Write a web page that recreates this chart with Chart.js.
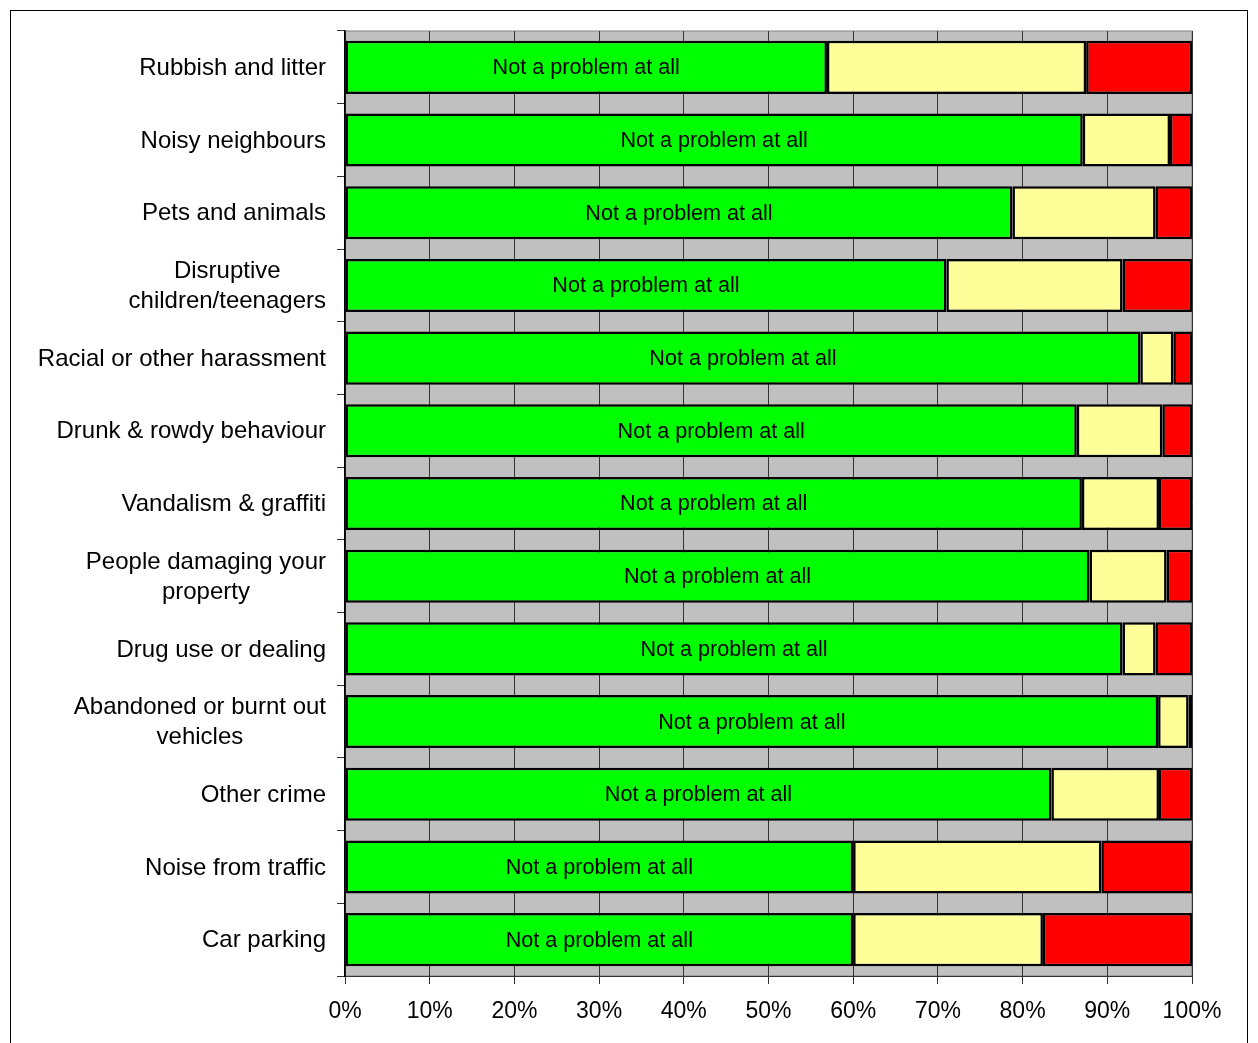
<!DOCTYPE html>
<html>
<head>
<meta charset="utf-8">
<script src="https://cdn.jsdelivr.net/npm/chart.js@4/dist/chart.umd.min.js"></script>
<style>
  html, body { margin: 0; padding: 0; background: #fff; }
  #wrap { position: relative; width: 1258px; height: 1043px; }
</style>
</head>
<body>
<div id="wrap"><canvas id="chart"></canvas></div>
<script>
const categories = [
  'Rubbish and litter',
  'Noisy neighbours',
  'Pets and animals',
  ['Disruptive', 'children/teenagers'],
  'Racial or other harassment',
  'Drunk & rowdy behaviour',
  'Vandalism & graffiti',
  ['People damaging your', 'property'],
  'Drug use or dealing',
  ['Abandoned or burnt out', 'vehicles'],
  'Other crime',
  'Noise from traffic',
  'Car parking'
]

const notAProblem = [56.9, 87.1, 78.8, 71.0, 93.9, 86.4, 87.0, 87.9, 91.8, 96.0, 83.4, 60.0, 60.0]
const bitOfAProblem = [30.6, 10.3, 16.9, 20.8, 3.9, 10.1, 9.1, 9.1, 3.9, 3.6, 12.7, 29.3, 22.4]
const bigProblem = [12.5, 2.6, 4.3, 8.2, 2.2, 3.5, 3.9, 3.0, 4.3, 0.4, 3.9, 10.7, 17.6]

const xTicks = [0, 10, 20, 30, 40, 50, 60, 70, 80, 90, 100]

const FONT = 'Arial, "Liberation Sans", sans-serif'

const backgroundPlugin = {
  id: 'plotBackground',
  beforeDraw(chart) {
    const { ctx, chartArea: a } = chart
    ctx.save()
    ctx.fillStyle = '#fff'
    ctx.fillRect(0, 0, chart.width, chart.height)
    ctx.strokeStyle = '#000'
    ctx.lineWidth = 1
    ctx.strokeRect(10.5, 10.5, 1237, 1100)
    ctx.fillStyle = '#C0C0C0'
    ctx.fillRect(a.left, a.top, a.right - a.left, a.bottom - a.top)
    ctx.strokeStyle = '#808080'
    ctx.strokeRect(a.left, a.top, a.right - a.left, a.bottom - a.top)
    ctx.restore()
  }
}

const labelsPlugin = {
  id: 'labels',
  afterDatasetsDraw(chart) {
    const { ctx } = chart
    const yScale = chart.scales.y
    ctx.save()
    ctx.fillStyle = '#000'
    ctx.textBaseline = 'middle'
    ctx.textAlign = 'center'

    // category labels: block right aligned, lines centred
    ctx.font = '24px ' + FONT
    categories.forEach((c, i) => {
      const lines = Array.isArray(c) ? c : [c]
      const y = yScale.getPixelForValue(i) + 1
      let w = 0
      lines.forEach(l => { w = Math.max(w, ctx.measureText(l).width) })
      const cx = yScale.right - 19 - w / 2
      const lh = 30
      lines.forEach((l, k) => {
        ctx.fillText(l, cx, y + (k - (lines.length - 1) / 2) * lh)
      })
    })

    // in-bar labels for the first series
    ctx.font = '21.6px ' + FONT
    const meta = chart.getDatasetMeta(0)
    meta.data.forEach(bar => {
      const x = (bar.x + bar.base) / 2
      ctx.fillText(chart.data.datasets[0].label, x, bar.y + 1)
    })
    ctx.restore()
  }
}

const barStyle = {
  borderColor: '#000',
  borderWidth: 2.5,
  borderSkipped: false,
  barPercentage: 0.73,
  categoryPercentage: 1
}

const config = {
  type: 'bar',
  data: {
    labels: categories,
    datasets: [
      { label: 'Not a problem at all', data: notAProblem, backgroundColor: '#00FF00', ...barStyle },
      { label: 'A bit of a problem', data: bitOfAProblem, backgroundColor: '#FFFF99', ...barStyle },
      { label: 'A very big problem', data: bigProblem, backgroundColor: '#FF0000', ...barStyle }
    ]
  },
  options: {
    indexAxis: 'y',
    responsive: true,
    maintainAspectRatio: false,
    animation: false,
    layout: {
      padding: { top: 31, right: 66, bottom: 0, left: 0 }
    },
    scales: {
      x: {
        stacked: true,
        min: 0,
        max: 100,
        afterBuildTicks: scale => {
          scale.ticks = xTicks.map(v => ({ value: v }))
        },
        afterFit: scale => { scale.height = 67 },
        ticks: {
          callback: v => v + '%',
          color: '#000',
          padding: 14,
          maxRotation: 0,
          font: { size: 23, family: FONT }
        },
        grid: {
          color: '#333',
          lineWidth: 1,
          tickLength: 8,
          drawTicks: true
        },
        border: { color: '#333', width: 1 }
      },
      y: {
        stacked: true,
        afterFit: scale => { scale.width = 345 },
        ticks: { display: false },
        grid: {
          offset: true,
          drawOnChartArea: false,
          color: '#333',
          tickLength: 8
        },
        border: { color: '#000', width: 1.5 }
      }
    },
    plugins: {
      legend: { display: false },
      tooltip: { enabled: false }
    }
  },
  plugins: [backgroundPlugin, labelsPlugin]
}

new Chart(document.getElementById('chart').getContext('2d'), config)
</script>
</body>
</html>
